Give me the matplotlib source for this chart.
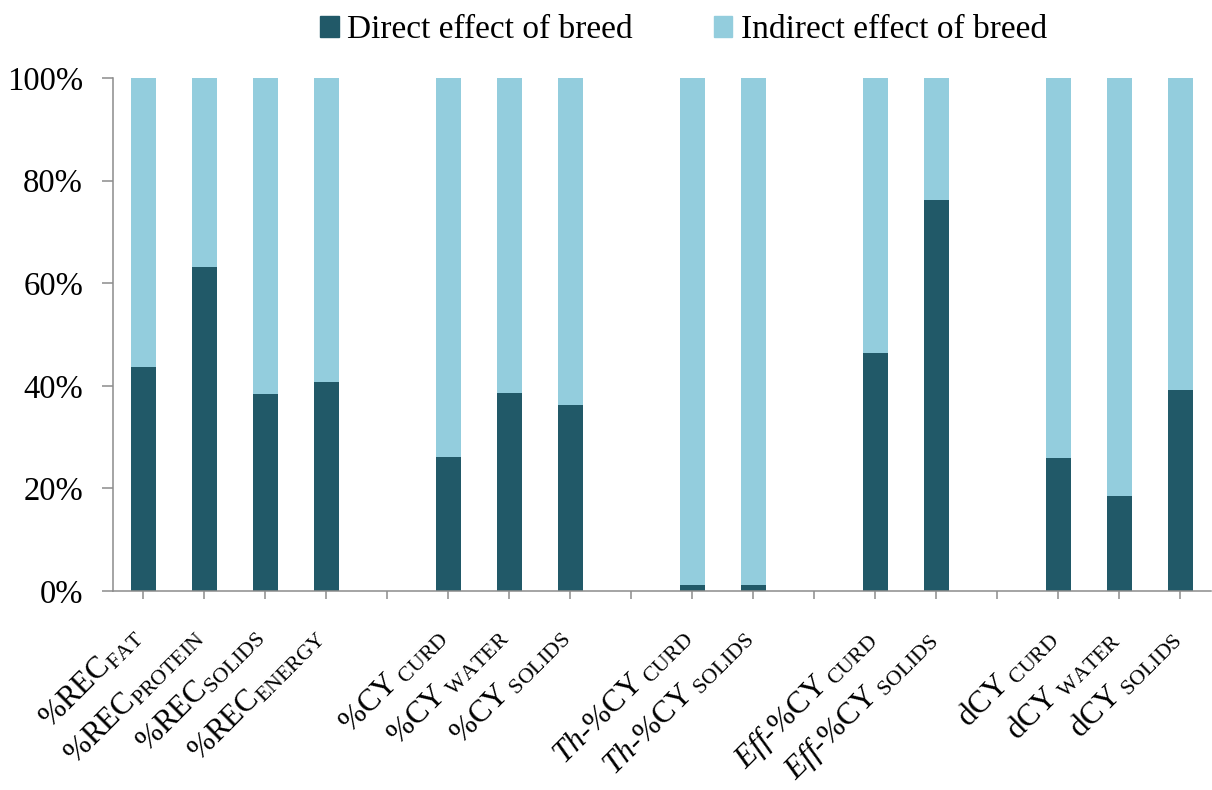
import numpy as np
import matplotlib
matplotlib.use("Agg")
import matplotlib.pyplot as plt
from matplotlib.patches import Patch
from matplotlib.transforms import ScaledTranslation, blended_transform_factory

plt.rcParams['font.family'] = ['Liberation Serif', 'DejaVu Serif']
plt.rcParams['mathtext.fontset'] = 'custom'
plt.rcParams['mathtext.rm'] = 'Liberation Serif'
plt.rcParams['mathtext.it'] = 'Liberation Serif:italic'
plt.rcParams['mathtext.bf'] = 'Liberation Serif:bold'

categories = [
    r'%REC$_{\mathrm{FAT}}$', r'%REC$_{\mathrm{PROTEIN}}$', r'%REC$_{\mathrm{SOLIDS}}$', r'%REC$_{\mathrm{ENERGY}}$',
    '',
    r'%CY$_{\ \mathrm{CURD}}$', r'%CY$_{\ \mathrm{WATER}}$', r'%CY$_{\ \mathrm{SOLIDS}}$',
    '',
    r'$\mathit{Th}$-%CY$_{\ \mathrm{CURD}}$', r'$\mathit{Th}$-%CY$_{\ \mathrm{SOLIDS}}$',
    '',
    r'$\mathit{Eff}$-%CY$_{\ \mathrm{CURD}}$', r'$\mathit{Eff}$-%CY$_{\ \mathrm{SOLIDS}}$',
    '',
    r'dCY$_{\ \mathrm{CURD}}$', r'dCY$_{\ \mathrm{WATER}}$', r'dCY$_{\ \mathrm{SOLIDS}}$',
]
direct = [43.7, 63.2, 38.4, 40.7, np.nan, 26.1, 38.6, 36.3, np.nan, 1.2, 1.2, np.nan,
          46.4, 76.2, np.nan, 25.9, 18.5, 39.2]
indirect = [100 - d if not np.isnan(d) else np.nan for d in direct]
yticks = [0, 20, 40, 60, 80, 100]
ytick_labels = ['0%', '20%', '40%', '60%', '80%', '100%']
series_names = ['Direct effect of breed', 'Indirect effect of breed']

c_dark = '#215968'
c_light = '#93CDDD'
c_axis = '#8C8C8C'

fig = plt.figure(figsize=(12.12, 7.9), dpi=100)
ax = fig.add_axes([0.0932, 0.2519, 0.9058, 0.6494])

x = np.arange(len(categories))
d = np.array(direct, dtype=float)
ind = np.array(indirect, dtype=float)
mask = ~np.isnan(d)
w = 0.41
ax.bar(x[mask], d[mask], width=w, color=c_dark, zorder=2)
ax.bar(x[mask], ind[mask], width=w, bottom=d[mask], color=c_light, zorder=2)

ax.set_xlim(-0.5, len(categories) - 0.5)
ax.set_ylim(0, 100)
ax.set_yticks(yticks)
ax.set_yticklabels(ytick_labels, fontsize=23.5)
ax.set_xticks(x)
ax.set_xticklabels([''] * len(categories))

# category labels drawn as rotated text anchored below each tick
trans = blended_transform_factory(ax.transData, ax.transAxes)
shift = ScaledTranslation(-12.5 / 72, -22 / 72, fig.dpi_scale_trans)
for xi, lab in zip(x, categories):
    if lab:
        ax.text(xi, 0, lab, transform=trans + shift, rotation=45, ha='right', va='top',
                rotation_mode='anchor', fontsize=22.5, clip_on=False)

for s in ['top', 'right']:
    ax.spines[s].set_visible(False)
for s in ['left', 'bottom']:
    ax.spines[s].set_color(c_axis)
    ax.spines[s].set_linewidth(1.1)
ax.tick_params(axis='x', direction='out', length=5.5, color=c_axis, width=1.1, pad=10)
ax.tick_params(axis='y', direction='out', length=8, color=c_axis, width=1.1, pad=13.5)

handles = [Patch(color=c_dark), Patch(color=c_light)]
fig.legend(handles, series_names, loc='center', bbox_to_anchor=(0.564, 0.962), ncol=2,
           frameon=False, fontsize=24, handlelength=0.55, handleheight=0.55,
           handletextpad=0.25, columnspacing=2.45)

fig.savefig('out.png', dpi=100)
